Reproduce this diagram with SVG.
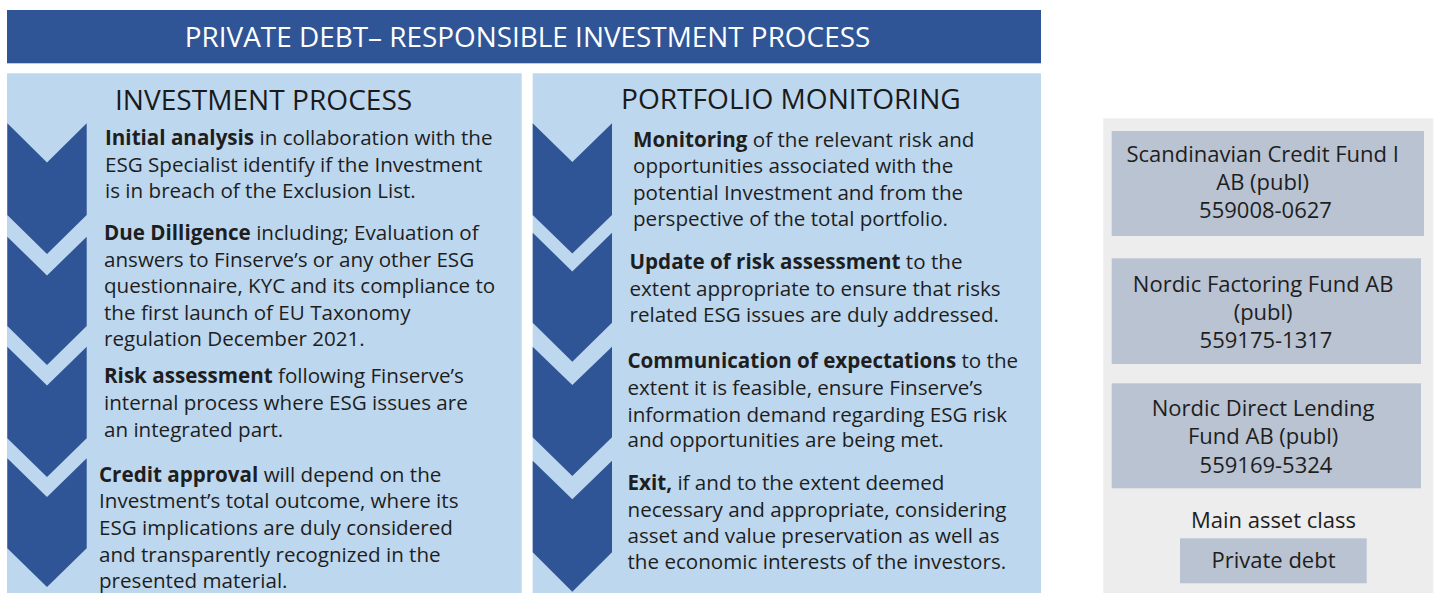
<svg xmlns="http://www.w3.org/2000/svg" width="1440" height="593" viewBox="0 0 1440 593">
  <style>
    .bar { fill: #2F5597; }
    .panel { fill: #BDD7EE; }
    .chev { fill: #2F5597; }
    .side { fill: #EDEDED; }
    .box { fill: #B9C3D2; }
    text { font-family: "Open Sans", "Noto Sans", "Liberation Sans", sans-serif; fill: #1E1E1E; }
    .title { font-size: 27.9px; fill: #FFFFFF; }
    .head { font-size: 28.1px; fill: #1A1A1A; }
    .body { font-size: 20.6px; }
    .fund { font-size: 22px; text-anchor: middle; }
    .b { font-weight: 700; }
  </style>

  <!-- Header bar -->
  <g id="title">
    <rect class="bar" x="7" y="10" width="1034" height="53.3"/>
    <text class="title" x="527.5" y="46.7" text-anchor="middle">PRIVATE DEBT– RESPONSIBLE INVESTMENT PROCESS</text>
  </g>

  <!-- Investment process column -->
  <g id="investment-process">
    <rect class="panel" x="7" y="73.3" width="514.7" height="520"/>
    <polygon class="chev" points="7.3,123.3 47,162.5 86.7,123.3 86.7,215 47,254 7.3,215"/>
    <polygon class="chev" points="7.3,236.7 47,275.5 86.7,236.7 86.7,326 47,365 7.3,326"/>
    <polygon class="chev" points="7.3,346.7 47,385.5 86.7,346.7 86.7,438.3 47,477 7.3,438.3"/>
    <polygon class="chev" points="7.3,458.3 47,497 86.7,458.3 86.7,548.3 47,587 7.3,548.3"/>
    <text class="head" x="115" y="110">INVESTMENT PROCESS</text>
    <text class="body">
      <tspan x="105" y="145"><tspan class="b">Initial analysis</tspan> in collaboration with the</tspan>
      <tspan x="105" y="171.5">ESG Specialist identify if the Investment</tspan>
      <tspan x="105" y="197.5">is in breach of the Exclusion List.</tspan>
    </text>
    <text class="body">
      <tspan x="104" y="240"><tspan class="b">Due Dilligence</tspan> including; Evaluation of</tspan>
      <tspan x="104" y="266.5">answers to Finserve’s or any other ESG</tspan>
      <tspan x="104" y="293">questionnaire, KYC and its compliance to</tspan>
      <tspan x="104" y="319.5">the first launch of EU Taxonomy</tspan>
      <tspan x="104" y="346">regulation December 2021.</tspan>
    </text>
    <text class="body">
      <tspan x="104" y="383.3"><tspan class="b">Risk assessment</tspan> following Finserve’s</tspan>
      <tspan x="104" y="410">internal process where ESG issues are</tspan>
      <tspan x="104" y="436.7">an integrated part.</tspan>
    </text>
    <text class="body">
      <tspan x="99" y="481.7"><tspan class="b">Credit approval</tspan> will depend on the</tspan>
      <tspan x="99" y="508.3">Investment’s total outcome, where its</tspan>
      <tspan x="99" y="535">ESG implications are duly considered</tspan>
      <tspan x="99" y="561.7">and transparently recognized in the</tspan>
      <tspan x="99" y="587.7">presented material.</tspan>
    </text>
  </g>

  <!-- Portfolio monitoring column -->
  <g id="portfolio-monitoring">
    <rect class="panel" x="532.7" y="73.3" width="508.3" height="520"/>
    <polygon class="chev" points="532.7,123.3 572.3,162 612,123.3 612,215 572.3,253.5 532.7,215"/>
    <polygon class="chev" points="532.7,232.7 572.3,271.5 612,232.7 612,322.7 572.3,361.7 532.7,322.7"/>
    <polygon class="chev" points="532.7,346.7 572.3,385 612,346.7 612,437.3 572.3,476 532.7,437.3"/>
    <polygon class="chev" points="532.7,460.7 572.3,499.3 612,460.7 612,552.3 572.3,591.7 532.7,552.3"/>
    <text class="head" x="621" y="108.5">PORTFOLIO MONITORING</text>
    <text class="body">
      <tspan x="633" y="147.3"><tspan class="b">Monitoring</tspan> of the relevant risk and</tspan>
      <tspan x="633" y="173.3">opportunities associated with the</tspan>
      <tspan x="633" y="200">potential Investment and from the</tspan>
      <tspan x="633" y="225.7">perspective of the total portfolio.</tspan>
    </text>
    <text class="body">
      <tspan x="629.5" y="269"><tspan class="b">Update of risk assessment</tspan> to the</tspan>
      <tspan x="629.5" y="295.7">extent appropriate to ensure that risks</tspan>
      <tspan x="629.5" y="321.7">related ESG issues are duly addressed.</tspan>
    </text>
    <text class="body">
      <tspan x="627.5" y="368.3"><tspan class="b">Communication of expectations</tspan> to the</tspan>
      <tspan x="627.5" y="395">extent it is feasible, ensure Finserve’s</tspan>
      <tspan x="627.5" y="421.7">information demand regarding ESG risk</tspan>
      <tspan x="627.5" y="447.3">and opportunities are being met.</tspan>
    </text>
    <text class="body">
      <tspan x="627.5" y="490"><tspan class="b">Exit,</tspan> if and to the extent deemed</tspan>
      <tspan x="627.5" y="516.7">necessary and appropriate, considering</tspan>
      <tspan x="627.5" y="542.7">asset and value preservation as well as</tspan>
      <tspan x="627.5" y="569.3">the economic interests of the investors.</tspan>
    </text>
  </g>

  <!-- Fund list panel -->
  <g id="funds">
    <rect class="side" x="1103.3" y="118.3" width="330" height="475"/>
  </g>
  <g id="fund-scandinavian-credit">
    <rect class="box" x="1111.7" y="131" width="312.3" height="105"/>
    <text class="fund">
      <tspan x="1265.5" y="161.7">Scandinavian Credit Fund I</tspan>
      <tspan x="1265.5" y="190">AB (publ)</tspan>
      <tspan x="1265.5" y="218.3">559008-0627</tspan>
    </text>
  </g>
  <g id="fund-nordic-factoring">
    <rect class="box" x="1111.7" y="258.3" width="309.3" height="105.7"/>
    <text class="fund">
      <tspan x="1266" y="291.7">Nordic Factoring Fund AB</tspan>
      <tspan x="1266" y="320">(publ)</tspan>
      <tspan x="1266" y="348.3">559175-1317</tspan>
    </text>
  </g>
  <g id="fund-nordic-direct-lending">
    <rect class="box" x="1111.7" y="383.3" width="309.3" height="105"/>
    <text class="fund">
      <tspan x="1266" y="416">Nordic Direct Lending</tspan>
      <tspan x="1266" y="444.3">Fund AB (publ)</tspan>
      <tspan x="1266" y="472.6">559169-5324</tspan>
    </text>
  </g>
  <g id="asset-class">
    <text class="fund" x="1273.5" y="528.3">Main asset class</text>
    <rect class="box" x="1180" y="538.3" width="186.7" height="45"/>
    <text class="fund" x="1273.5" y="568.3">Private debt</text>
  </g>
</svg>
